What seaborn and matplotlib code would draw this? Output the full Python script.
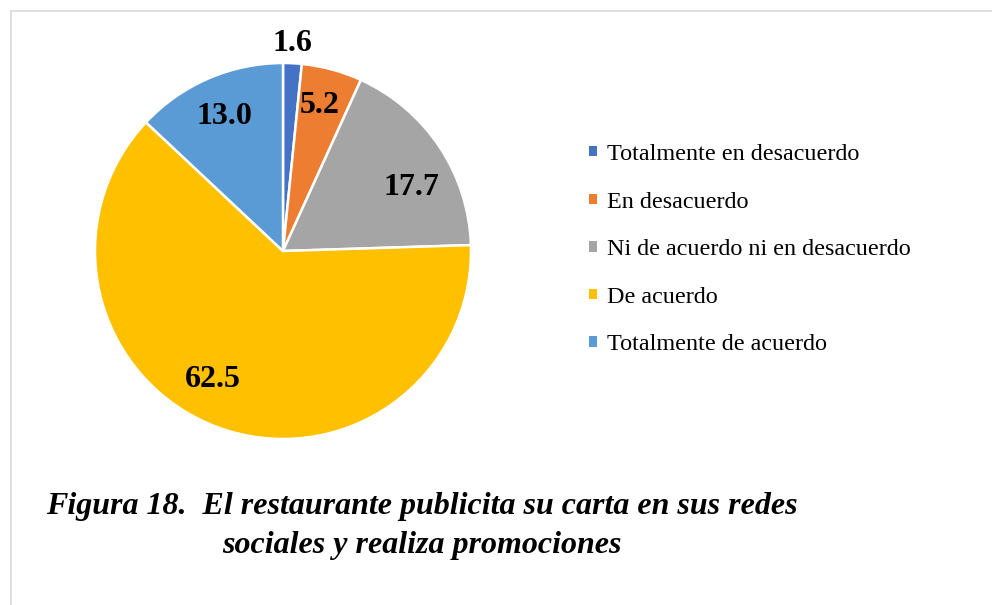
import matplotlib
matplotlib.use("Agg")
import matplotlib.pyplot as plt
from matplotlib.lines import Line2D
import seaborn as sns

categories = ["Totalmente en desacuerdo", "En desacuerdo",
              "Ni de acuerdo ni en desacuerdo", "De acuerdo",
              "Totalmente de acuerdo"]
values = [1.6, 5.2, 17.7, 62.5, 13.0]
colors_hex = ["#4472C4", "#ED7D31", "#A5A5A5", "#FFC000", "#5B9BD5"]
caption = "Figura 18.  El restaurante publicita su carta en sus redes\nsociales y realiza promociones"

# label positions (in pie data units), layout only
label_pos = [(0.048, 1.105), (0.197, 0.772), (0.681, 0.338),
             (-0.372, -0.684), (-0.314, 0.716)]

sns.set_theme(style="white")
plt.rcParams["font.family"] = ["Liberation Serif", "DejaVu Serif"]
plt.rcParams["text.color"] = "black"

W, H = 992, 605
fig = plt.figure(figsize=(W / 100, H / 100), dpi=100)
fig.patch.set_facecolor("white")

cx, cy, r = 283, 251, 188
ax = fig.add_axes([(cx - r) / W, (H - cy - r) / H, 2 * r / W, 2 * r / H])
palette = sns.color_palette(colors_hex)
wedges, _ = ax.pie(values, colors=palette, startangle=90, counterclock=False,
                   radius=1.0, wedgeprops=dict(edgecolor="white", linewidth=1.8))
ax.set_xlim(-1, 1)
ax.set_ylim(-1, 1)
ax.set_aspect("equal")
ax.axis("off")

for v, (x, y) in zip(values, label_pos):
    ax.text(x, y, f"{v:.1f}", ha="center", va="center", fontsize=23,
            fontweight="bold", color="black")

leg = fig.legend(wedges, categories, loc="upper left",
                 bbox_to_anchor=(589 / W, 1 - 144 / H), frameon=False,
                 fontsize=17.4, handlelength=0.34, handleheight=0.28,
                 handletextpad=0.4, labelspacing=1.1, borderpad=0,
                 borderaxespad=0, labelcolor="black")
for h in leg.legend_handles:
    h.set_edgecolor("none")

fig.text(422 / W, 1 - 526 / H, caption, ha="center", va="center",
         fontsize=23, fontweight="bold", fontstyle="italic", linespacing=1.48,
         color="black")

fig.add_artist(Line2D([10.5 / W, 10.5 / W], [0, 1 - 11 / H], color="#D9D9D9", lw=1.2))
fig.add_artist(Line2D([10.5 / W, 1], [1 - 11 / H, 1 - 11 / H], color="#D9D9D9", lw=1.2))

fig.savefig("out.png", dpi=100, facecolor="white")
